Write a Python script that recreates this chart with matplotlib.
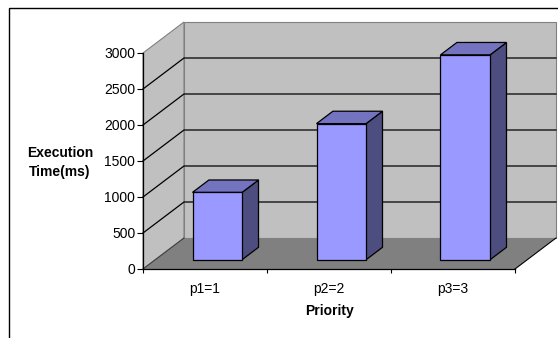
import matplotlib
matplotlib.use("Agg")
import matplotlib.pyplot as plt
from matplotlib.patches import Polygon, Rectangle

plt.rcParams["font.family"] = ["Liberation Sans", "DejaVu Sans"]

categories = ["p1=1", "p2=2", "p3=3"]
exec_times = [935, 1890, 2845]
y_ticks = [0, 500, 1000, 1500, 2000, 2500, 3000]
y_title = "Execution\nTime(ms)"
x_title = "Priority"

W, H = 558, 338
fig = plt.figure(figsize=(W / 100, H / 100), dpi=100)
fig.patch.set_facecolor("white")

# front plane of the 3-D plot box (pixels)
L, R, B, T = 143, 515, 269, 53
ax = fig.add_axes([L / W, (H - B) / H, (R - L) / W, (B - T) / H])
ax.set_xlim(0, len(categories))
ax.set_ylim(0, 3000)
ax.patch.set_visible(False)

# oblique depth offset of the back wall, in data units
DEPTH_X = 41 / ((R - L) / len(categories))
DEPTH_Y = 31 * 3000 / (B - T)


def proj(x, v, d):
    return (x + d * DEPTH_X, v + d * DEPTH_Y)


def face(pts, fc, ec, lw, z):
    ax.add_patch(Polygon([proj(*p) for p in pts], closed=True, facecolor=fc,
                         edgecolor=ec, linewidth=lw, zorder=z, clip_on=False,
                         joinstyle="miter"))


n = len(categories)
vmax = y_ticks[-1]
wall = "#C0C0C0"
edge = "#808080"

# side wall and back wall
face([(0, 0, 0), (0, vmax, 0), (0, vmax, 1), (0, 0, 1)], wall, edge, 0.8, 1)
face([(0, 0, 1), (n, 0, 1), (n, vmax, 1), (0, vmax, 1)], wall, edge, 0.8, 1)

# gridlines on both walls
for v in y_ticks[1:-1]:
    xs, ys = zip(proj(0, v, 0), proj(0, v, 1), proj(n, v, 1))
    ax.plot(xs, ys, color="black", lw=0.9, zorder=2, clip_on=False)

# floor
face([(0, 0, 0), (n, 0, 0), (n, 0, 1), (0, 0, 1)], "#808080", "none", 0, 3)
xs, ys = zip(proj(n, 0, 0), proj(n, 0, 1))
ax.plot(xs, ys, color="black", lw=0.8, zorder=3, clip_on=False)
xs, ys = zip(proj(0, 0, 0), proj(0, 0, 1))
ax.plot(xs, ys, color="#404040", lw=0.8, zorder=3, clip_on=False)

# bars
front_c, top_c, side_c = "#9999FF", "#7373BF", "#4D4D80"
bw, d0, d1 = 0.4, 0.3, 0.7
for i, val in enumerate(exec_times):
    x0 = i + (1 - bw) / 2
    x1 = x0 + bw
    face([(x1, 0, d0), (x1, 0, d1), (x1, val, d1), (x1, val, d0)], side_c, "black", 0.9, 5)
    face([(x0, val, d0), (x1, val, d0), (x1, val, d1), (x0, val, d1)], top_c, "black", 0.9, 5)
    face([(x0, 0, d0), (x1, 0, d0), (x1, val, d0), (x0, val, d0)], front_c, "black", 0.9, 6)

# axes
for s in ("top", "right"):
    ax.spines[s].set_visible(False)
for s in ("left", "bottom"):
    ax.spines[s].set_color("black")
    ax.spines[s].set_linewidth(0.9)
    ax.spines[s].set_zorder(7)

ax.set_yticks(y_ticks)
ax.set_yticklabels([str(t) for t in y_ticks])
ax.tick_params(axis="y", direction="out", length=4, width=0.8, pad=1.5,
               labelsize=10, colors="black")

ax.set_xticks(range(n + 1))
ax.set_xticklabels([])
ax.tick_params(axis="x", which="major", direction="out", length=3, width=0.8)
ax.set_xticks([i + 0.5 for i in range(n)], minor=True)
ax.set_xticklabels(categories, minor=True)
ax.tick_params(axis="x", which="minor", length=0, pad=9, labelsize=10)

fig.text(60 / W, 1 - 162.5 / H, y_title, ha="center", va="center",
         fontsize=10, fontweight="bold", multialignment="center", linespacing=1.5)
fig.text(329 / W, 1 - 311 / H, x_title, ha="center", va="center",
         fontsize=10, fontweight="bold")

# chart-area border
fig.add_artist(Rectangle((8.5 / W, -0.1), 1.2, 1 - 7.5 / H + 0.1,
                         transform=fig.transFigure, fill=False,
                         edgecolor="black", linewidth=1.0))

fig.savefig("out.png", dpi=100)
